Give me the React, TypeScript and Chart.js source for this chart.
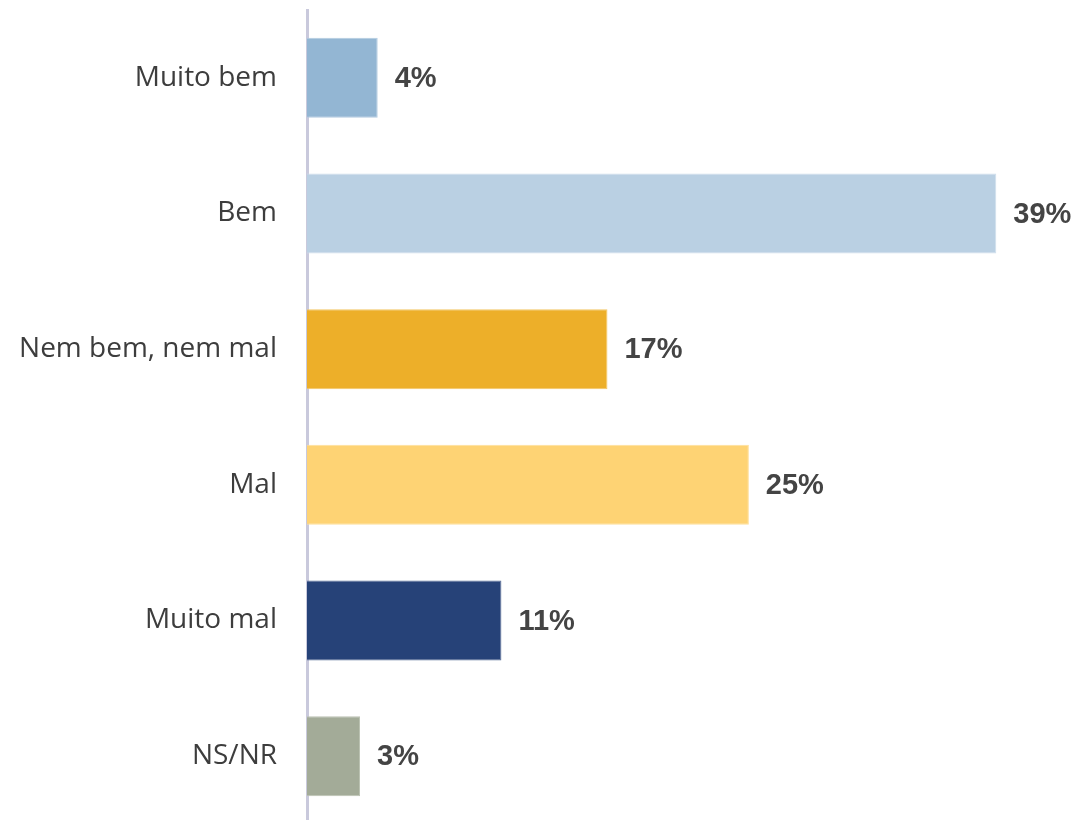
import React, { useEffect, useRef } from "react";
import { Chart, registerables } from "chart.js";

Chart.register(...registerables);

const categories = ["Muito bem", "Bem", "Nem bem, nem mal", "Mal", "Muito mal", "NS/NR"];
const values = [4, 39, 17, 25, 11, 3];
const valueLabels = ["4%", "39%", "17%", "25%", "11%", "3%"];
const barColors = ["#93b6d3", "#bad0e3", "#edaf29", "#fed374", "#264278", "#a3ab98"];
const borderColors = ["#b3cbe0", "#cfdeeb", "#f3c665", "#fedf9a", "#5a6f99", "#bcc2b3"];

const valueLabelPlugin = {
  id: "valueLabels",
  afterDatasetsDraw(chart: any) {
    const ctx = chart.ctx;
    const meta = chart.getDatasetMeta(0);
    ctx.save();
    ctx.font = "bold 29px 'Liberation Sans', Arial, sans-serif";
    ctx.fillStyle = "#444444";
    ctx.textAlign = "left";
    ctx.textBaseline = "middle";
    meta.data.forEach((bar: any, i: number) => {
      ctx.fillText(valueLabels[i], bar.x + 17, bar.y + 1);
    });
    ctx.restore();
  },
};

export default function App() {
  const ref = useRef<HTMLCanvasElement | null>(null);
  useEffect(() => {
    if (!ref.current) return;
    const chart = new Chart(ref.current, {
      type: "bar",
      data: {
        labels: categories,
        datasets: [
          {
            data: values,
            backgroundColor: barColors,
            borderColor: borderColors,
            borderWidth: 1,
            barPercentage: 0.59,
            categoryPercentage: 1,
          },
        ],
      },
      options: {
        indexAxis: "y",
        animation: false,
        responsive: false,
        maintainAspectRatio: false,
        layout: { padding: { top: 10, bottom: 0, left: 0, right: 12 } },
        plugins: {
          legend: { display: false },
          tooltip: { enabled: false },
        },
        scales: {
          x: {
            min: 0,
            max: 43,
            display: false,
            grid: { display: false },
          },
          y: {
            grid: { display: false, drawTicks: false },
            border: { display: true, color: "#c9c9dc", width: 3 },
            ticks: {
              color: "#3d3d3d",
              padding: 30,
              font: { family: "'Open Sans', sans-serif", size: 28 },
            },
            afterFit(scale: any) {
              scale.width = 307;
              scale.paddingTop = 0;
              scale.paddingBottom = 0;
            },
          },
        },
      },
      plugins: [valueLabelPlugin],
    });
    return () => chart.destroy();
  }, []);
  return (
    <div style={{ position: "absolute", left: 0, top: 0, width: 1079, height: 820, overflow: "hidden", background: "#fff" }}>
      <canvas ref={ref} width={1079} height={824} style={{ display: "block" }} />
    </div>
  );
}
